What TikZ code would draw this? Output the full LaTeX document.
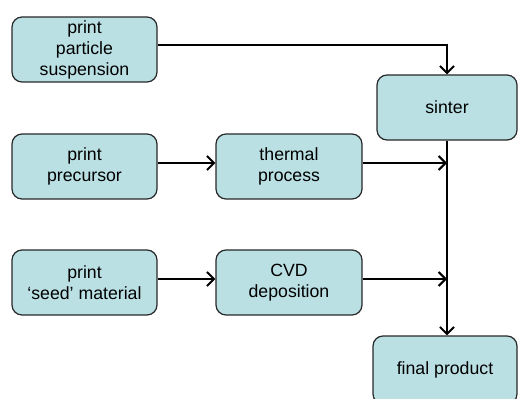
\documentclass[tikz,border=0pt]{standalone}
\usepackage{fontspec}
\setmainfont{Liberation Sans}
\usetikzlibrary{arrows.meta,calc}

\definecolor{boxfill}{RGB}{186,224,228}
\definecolor{boxline}{RGB}{40,40,40}

\begin{document}
\begin{tikzpicture}[x=1pt, y=-1pt,
    stepbox/.style={draw=boxline, fill=boxfill, line width=1.2pt, rounded corners=10pt,
        minimum width=145pt, minimum height=65pt, align=center, inner sep=0pt,
        font=\fontsize{17.7}{21}\selectfont},
    arr/.style={line width=2.3pt, -{Straight Barb[length=7pt,width=14pt,line width=2pt]}}]
    \useasboundingbox (0,0) rectangle (518,398);

    % Linha da esquerda: impressao
    \node[stepbox] (particle) at (84.5,49.5) {print\\particle\\suspension};
    \node[stepbox] (precursor) at (84.5,166.5) {print\\precursor};
    \node[stepbox] (seed) at (84.5,282.5) {print\\‘seed’ material};

    % Etapas do meio
    \node[stepbox, minimum width=146pt] (thermal) at (289,166.5) {thermal\\process};
    \node[stepbox, minimum width=146pt] (cvd) at (289,282.5) {CVD\\deposition};

    % Coluna da direita
    \node[stepbox, minimum width=140pt] (sinter) at (447,107.5) {sinter};
    \node[stepbox, minimum width=144pt, minimum height=68pt] (final) at (445,370) {final product};

    % Setas
    \draw[arr] ([yshift=4.5pt]particle.east) -| (sinter.north);
    \draw[arr] ([yshift=3.5pt]precursor.east) -- ([yshift=3.5pt]thermal.west);
    \draw[arr] ([yshift=3.5pt]seed.east) -- ([yshift=3.5pt]cvd.west);
    \draw[arr] ([yshift=3.5pt]thermal.east) -- ([yshift=3.5pt]thermal.east -| sinter.south);
    \draw[arr] ([yshift=3.5pt]cvd.east) -- ([yshift=3.5pt]cvd.east -| sinter.south);
    \draw[arr] (sinter.south) -- (sinter.south |- final.north);
\end{tikzpicture}
\end{document}
